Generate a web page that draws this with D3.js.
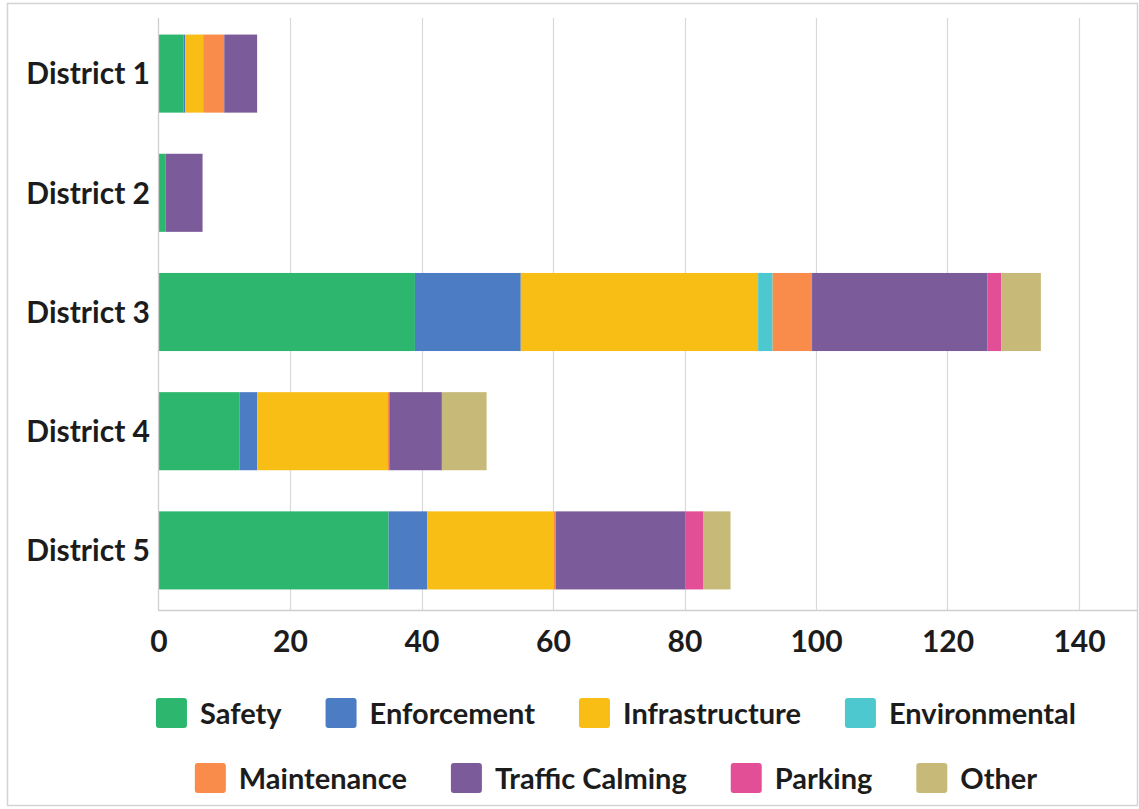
<!DOCTYPE html>
<html><head><meta charset="utf-8">
<script src="https://cdn.jsdelivr.net/npm/d3@7"></script>
<style>body{margin:0;background:#fff}svg{display:block}</style>
</head><body>
<svg id="chart" width="1139" height="809"></svg>
<script>
// ---- data ----
const districts = ["District 1", "District 2", "District 3", "District 4", "District 5"];
const categories = ["Safety", "Enforcement", "Infrastructure", "Environmental", "Maintenance", "Traffic Calming", "Parking", "Other"];
const safety         = [3.8, 1.1, 39.0, 12.3, 35.0];
const enforcement    = [0.25, 0, 16.1, 2.7, 5.9];
const infrastructure = [2.75, 0, 36.1, 19.8, 19.2];
const environmental  = [0, 0, 2.2, 0, 0];
const maintenance    = [3.2, 0, 6.0, 0.3, 0.3];
const trafficCalming = [5.0, 5.6, 26.7, 8.0, 19.7];
const parking        = [0, 0, 2.1, 0, 2.8];
const other          = [0, 0, 6.0, 6.8, 4.1];
const xTickValues = [0, 20, 40, 60, 80, 100, 120, 140];
const colors = ["#2DB66E", "#4B7CC4", "#F9BE16", "#4CC8CE", "#F98B4B", "#7B5B9A", "#E24F97", "#C7BA79"];
const legendRows = [["Safety", "Enforcement", "Infrastructure", "Environmental"],
                    ["Maintenance", "Traffic Calming", "Parking", "Other"]];

// ---- build ----
const seriesValues = [safety, enforcement, infrastructure, environmental, maintenance, trafficCalming, parking, other];
const rows = districts.map((d, i) => {
  const r = {district: d};
  categories.forEach((c, j) => r[c] = seriesValues[j][i]);
  return r;
});
const stacked = d3.stack().keys(categories)(rows);
const color = d3.scaleOrdinal().domain(categories).range(colors);

const svg = d3.select("#chart");
const FONT = "Lato, 'Open Sans', sans-serif";
const TEXT = "#1c1c1c";
const GRID = "#d9d9d9";

// frame
svg.append("rect").attr("x", 7.5).attr("y", 3.5).attr("width", 1130).attr("height", 802)
  .attr("fill", "#fff").attr("stroke", "#d4d4d4").attr("stroke-width", 1.5);

const x = d3.scaleLinear().domain([0, 140]).range([158.5, 1079]);
const y = d3.scaleBand().domain(districts).range([14, 610]).paddingInner(0.345).paddingOuter(0.1725);
const plotTop = 18, plotBottom = 610.5;

// gridlines
svg.append("g").selectAll("line").data(xTickValues.slice(1)).join("line")
  .attr("x1", d => Math.round(x(d)) + 0.5).attr("x2", d => Math.round(x(d)) + 0.5)
  .attr("y1", plotTop).attr("y2", plotBottom)
  .attr("stroke", GRID).attr("stroke-width", 1.2);

// bars
svg.append("g").selectAll("g").data(stacked).join("g")
  .attr("fill", d => color(d.key))
  .selectAll("rect").data(d => d.filter(s => s[1] - s[0] > 0)).join("rect")
  .attr("x", d => x(d[0]))
  .attr("y", d => y(d.data.district))
  .attr("width", d => x(d[1]) - x(d[0]))
  .attr("height", y.bandwidth());

// axes lines
svg.append("line").attr("x1", 158.5).attr("x2", 158.5).attr("y1", plotTop).attr("y2", plotBottom)
  .attr("stroke", "#cfcfcf").attr("stroke-width", 1.3);
svg.append("line").attr("x1", 158).attr("x2", 1137).attr("y1", plotBottom).attr("y2", plotBottom)
  .attr("stroke", "#cfcfcf").attr("stroke-width", 1.3);

// x axis tick labels
const xAxis = d3.axisBottom(x).tickValues(xTickValues).tickSize(0).tickPadding(0).tickFormat(d3.format("d"));
const gx = svg.append("g").attr("transform", `translate(0,${plotBottom})`).call(xAxis);
gx.select(".domain").remove();
gx.selectAll("text").attr("y", 41).attr("dy", 0)
  .attr("font-family", FONT).attr("font-weight", 700).attr("font-size", 30).attr("fill", TEXT);

// y axis labels
const yAxis = d3.axisLeft(y).tickSize(0).tickPadding(8);
const gy = svg.append("g").attr("transform", `translate(150,0)`).call(yAxis);
gy.select(".domain").remove();
gy.selectAll("text").attr("x", 0).attr("dy", "0.36em")
  .attr("font-family", FONT).attr("font-weight", 700).attr("font-size", 30).attr("fill", TEXT);

// legend
const legendY = [713, 778];
const sw = 31, sh = 30, swGap = 13, itemGap = 44, centerX = 616;
legendRows.forEach((row, ri) => {
  const g = svg.append("g");
  let cx = 0;
  row.forEach(name => {
    const item = g.append("g").attr("transform", `translate(${cx},0)`);
    item.append("rect").attr("x", 0).attr("y", legendY[ri] - sh / 2).attr("width", sw).attr("height", sh)
      .attr("rx", 3).attr("fill", color(name));
    const t = item.append("text").attr("x", sw + swGap).attr("y", legendY[ri] + 10.5)
      .attr("font-family", FONT).attr("font-weight", 700).attr("font-size", 29).attr("fill", TEXT)
      .text(name);
    cx += sw + swGap + t.node().getComputedTextLength() + itemGap;
  });
  const total = cx - itemGap;
  g.attr("transform", `translate(${centerX - total / 2},0)`);
});
</script>
</body></html>
